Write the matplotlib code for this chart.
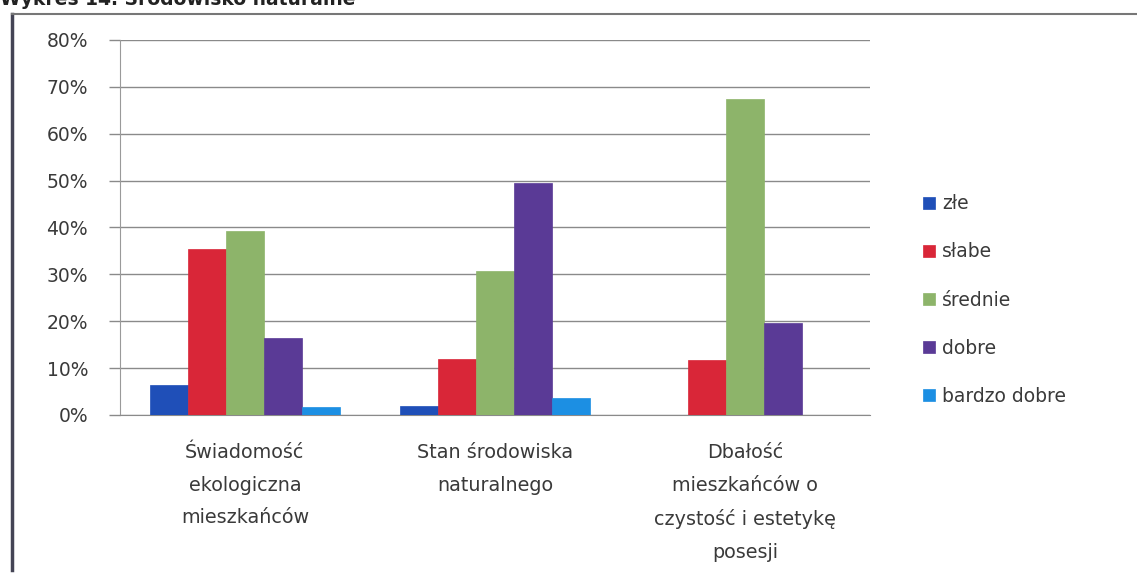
import matplotlib
matplotlib.use("Agg")
import matplotlib.pyplot as plt
from matplotlib.lines import Line2D
import numpy as np

plt.rcParams['font.family'] = ['DejaVu Sans']

categories = ["Świadomość\nekologiczna\nmieszkańców",
              "Stan środowiska\nnaturalnego",
              "Dbałość\nmieszkańców o\nczystość i estetykę\nposesji"]
series_names = ["złe", "słabe", "średnie", "dobre", "bardzo dobre"]
zle = [6.3, 2.0, 0.0]
slabe = [35.5, 12.0, 11.8]
srednie = [39.3, 30.8, 67.5]
dobre = [16.4, 49.5, 19.6]
bardzo_dobre = [1.8, 3.6, 0.0]
yticks = [0, 10, 20, 30, 40, 50, 60, 70, 80]
ytick_labels = ["0%", "10%", "20%", "30%", "40%", "50%", "60%", "70%", "80%"]

series = [zle, slabe, srednie, dobre, bardzo_dobre]
colors = ["#1f4fb8", "#d92638", "#8db46a", "#5a3a96", "#1c8fe3"]

fig = plt.figure(figsize=(11.37, 5.77), dpi=100)
ax = fig.add_axes([0.1055, 0.2808, 0.6595, 0.65])

x = np.arange(len(categories))
w = 0.152
for i, (vals, c, name) in enumerate(zip(series, colors, series_names)):
    ax.bar(x + (i - 2) * w, vals, width=w, color=c, label=name, zorder=3,
           edgecolor=c, linewidth=0.5)

ax.set_xlim(-0.5, 2.5)
ax.set_ylim(0, 80)
ax.set_yticks(yticks)
ax.set_yticklabels(ytick_labels, fontsize=13.5, color="#3a3a3a")
ax.yaxis.grid(True, color="#8a8a8a", linewidth=1.0, zorder=0)
ax.set_xticks(x)
ax.set_xticklabels(categories, fontsize=13.8, color="#3a3a3a", linespacing=1.92,
                   va="top")
ax.tick_params(axis='x', length=0, pad=20)
ax.tick_params(axis='y', length=8, width=1, color="#8a8a8a", pad=15, direction='out')
for s in ["top", "right"]:
    ax.spines[s].set_visible(False)
ax.spines["left"].set_color("#9a9a9a")
ax.spines["bottom"].set_color("#8a8a8a")

leg = ax.legend(loc="center left", bbox_to_anchor=(0.797, 0.48),
                bbox_transform=fig.transFigure, frameon=False,
                fontsize=13.5, handlelength=0.65, handleheight=0.65,
                handletextpad=0.35, labelspacing=1.55)
for t in leg.get_texts():
    t.set_color("#3a3a3a")

# scanned page frame
fig.add_artist(Line2D([0.0105, 0.0105], [0.012, 0.975], transform=fig.transFigure,
                      color="#444455", linewidth=2.5))
fig.add_artist(Line2D([0.0105, 1.0], [0.975, 0.975], transform=fig.transFigure,
                      color="#777777", linewidth=1.5))
fig.text(0.0, 1.004, "Wykres 14. Środowisko naturalne", fontsize=13.5,
         fontweight="bold", va="center", ha="left", color="#222222")

fig.savefig("out.png", dpi=100)
